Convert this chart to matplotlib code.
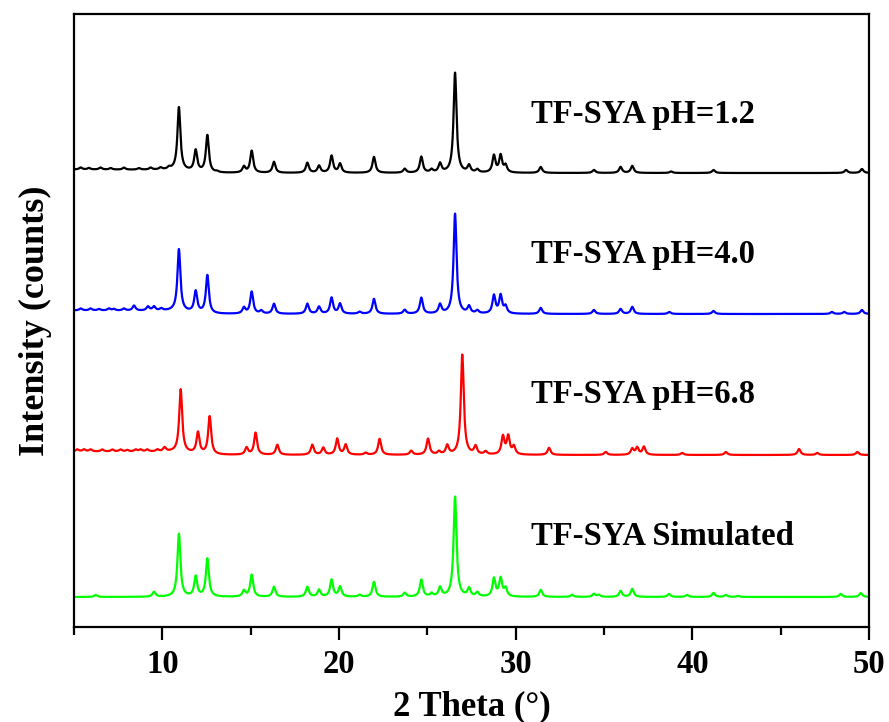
import numpy as np
import matplotlib.pyplot as plt
from matplotlib.ticker import MultipleLocator

plt.rcParams['font.family'] = ['Liberation Serif', 'DejaVu Serif']
plt.rcParams['font.weight'] = 'bold'

# peak positions (2 theta) and heights
sim_pos = [6.23, 9.53, 10.94, 11.89, 12.55, 14.62, 15.06, 16.32, 18.21, 18.87, 19.58, 20.06,
           21.17, 21.98, 23.72, 24.66, 25.24, 25.72, 26.57, 27.36, 27.83, 28.77, 29.15, 29.43,
           31.42, 33.2, 34.43, 34.7, 35.94, 36.6, 38.68, 39.7, 41.2, 41.9, 42.6, 48.4, 49.53]
sim_int = [2, 5, 63, 20, 38, 6, 22, 10, 10, 7, 17, 10,
           2, 15, 4, 17, 3, 9, 100, 8, 4, 18, 18, 8,
           7, 2, 3, 2, 6, 8, 3, 2, 4, 2, 1, 3, 4]

ph68_pos = [5.19, 5.57, 5.94, 6.6, 7.17, 7.64, 8.02, 8.49, 8.77, 9.15, 9.72, 10.13,
            11.04, 12.02, 12.68, 14.77, 15.28, 16.51, 18.49, 19.11, 19.9, 20.38, 21.51, 22.3,
            24.09, 25.04, 25.66, 26.13, 26.98, 27.73, 28.3, 29.28, 29.58, 29.9, 31.89, 35.1,
            36.6, 36.88, 37.26, 39.43, 41.9, 46.04, 47.07, 49.34]
ph68_int = [2, 2, 2, 2, 2, 2, 1.5, 2, 2, 2, 2, 4,
            63, 21, 38, 7, 22, 10, 10, 7, 16, 10, 2, 16,
            4, 16, 3, 9, 100, 8, 3, 18, 18, 8, 7, 3,
            6, 7, 8, 2, 3, 6, 2, 3]

ph40_pos = [5.38, 5.94, 6.42, 6.98, 7.26, 7.83, 8.4, 9.19, 9.53, 9.94,
            10.94, 11.89, 12.55, 14.62, 15.06, 15.6, 16.32, 18.21, 18.87, 19.58, 20.06, 21.17,
            21.98, 23.72, 24.66, 25.72, 26.57, 27.36, 27.83, 28.77, 29.15, 29.43, 31.42, 34.43,
            35.94, 36.6, 38.7, 41.2, 47.9, 48.6, 49.6]
ph40_int = [2, 2, 1.5, 2, 1.5, 2, 5, 4, 4, 2,
            62, 21, 38, 6, 22, 3, 10, 10, 7, 16, 10, 2,
            15, 4, 16, 9, 100, 7, 3, 18, 18, 7, 6, 4,
            5, 7, 2, 3, 2, 2, 4]

ph12_pos = [5.38, 5.85, 6.5, 7.08, 7.83, 8.68, 9.34, 9.9, 10.38,
            10.94, 11.89, 12.55, 13.1, 14.62, 15.06, 16.32, 18.21, 18.87, 19.58, 20.06, 21.98,
            23.72, 24.66, 25.24, 25.72, 26.57, 27.36, 27.83, 28.77, 29.15, 29.43, 31.42, 34.43,
            35.94, 36.6, 38.8, 41.2, 48.7, 49.6]
ph12_int = [2, 1.5, 2, 1.5, 2, 1.5, 2, 2, 2,
            63, 21, 37, 1, 6, 22, 11, 10, 7, 17, 9, 16,
            4, 16, 3, 9, 100, 7, 3, 17, 17, 7, 6, 3,
            6, 7, 1.5, 3, 3, 4]

# slightly raised low-angle background of the measured patterns
bg_x = [5, 10.6, 12.8, 50]
bg_meas = [3.5, 3, 0, 0]
bg_sim = [0, 0, 0, 0]

labels = ['TF-SYA pH=1.2', 'TF-SYA pH=4.0', 'TF-SYA pH=6.8', 'TF-SYA Simulated']
colors = ['black', '#0000FF', '#FF0000', '#00FF00']
offsets = [454, 313, 172, 30]
label_y = [504, 364, 224, 82]

patterns = [(ph12_pos, ph12_int, bg_meas), (ph40_pos, ph40_int, bg_meas),
            (ph68_pos, ph68_int, bg_meas), (sim_pos, sim_int, bg_sim)]

tt = np.arange(5, 50.001, 0.01)
gam = 0.1   # half width of each peak


def profile(pos, inten, bg):
    y = np.interp(tt, bg_x, bg)
    for p, h in zip(pos, inten):
        y = y + h / (1 + ((tt - p) / gam) ** 2)
    return y


fig = plt.figure(figsize=(8.89, 7.22), dpi=100)
ax = fig.add_axes([0.0832, 0.1316, 0.8943, 0.849])

for (pos, inten, bg), c, off, lab, ly in zip(patterns, colors, offsets, labels, label_y):
    ax.plot(tt, profile(pos, inten, bg) + off, color=c, lw=1.6)
    ax.text(30.85, ly, lab, fontsize=23.5, fontweight='bold', va='baseline', ha='left')

ax.set_xlim(5, 50)
ax.set_ylim(0, 613)
ax.xaxis.set_major_locator(MultipleLocator(10))
ax.xaxis.set_minor_locator(MultipleLocator(5))
ax.set_yticks([])
ax.tick_params(axis='x', which='major', direction='out', length=9.5, width=1.6,
               labelsize=23.5, pad=6)
ax.tick_params(axis='x', which='minor', direction='out', length=6, width=1.6)
for s in ax.spines.values():
    s.set_linewidth(1.6)

ax.set_xlabel('2 Theta (°)', fontsize=25, fontweight='bold', labelpad=8)
ax.set_ylabel('Intensity (counts)', fontsize=26, fontweight='bold', labelpad=16)

plt.savefig('out.png', dpi=100)
plt.close()
